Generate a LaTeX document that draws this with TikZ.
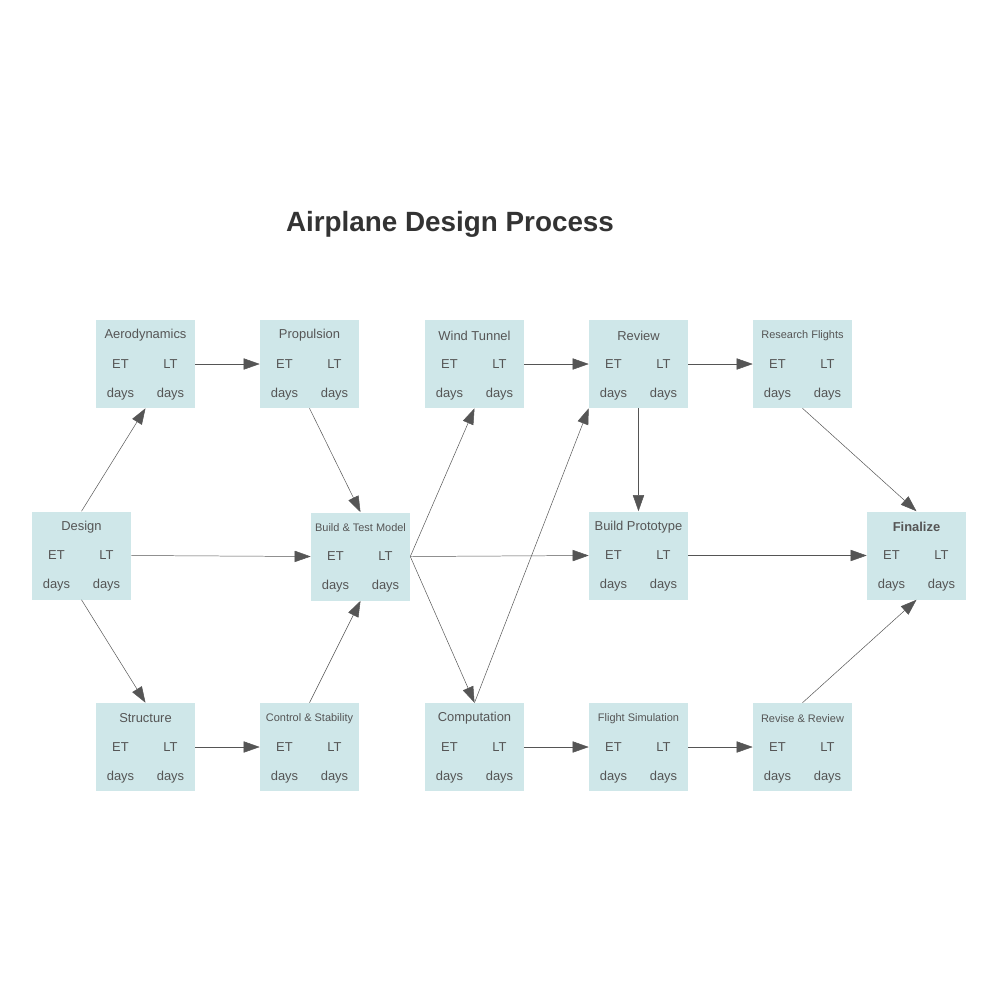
\documentclass[tikz,border=0pt]{standalone}
\usepackage{fontspec}
\setmainfont{Liberation Sans}
\usepackage[svgnames]{xcolor}
\usetikzlibrary{arrows.meta,positioning}

\definecolor{boxfill}{RGB}{207,231,233}
\definecolor{ink}{RGB}{85,85,85}
\definecolor{headline}{RGB}{51,51,51}

% one activity box: name, centre, title
\newcommand{\taskbox}[4][]{%
    \node[task] (#2) at (#3) {} ;
    \path (#2.center) ++(0,-28.5) node[tasktitle,#1] (#2-t) {#4} ;
    \path (#2.center) ++(-25,0) node[tasktext] (#2-et) {ET} ;
    \path (#2.center) ++(25,0) node[tasktext] (#2-lt) {LT} ;
    \path (#2.center) ++(-25,30) node[tasktext] (#2-ed) {days} ;
    \path (#2.center) ++(25,30) node[tasktext] (#2-ld) {days} ;
}

\begin{document}
\begin{tikzpicture}[
        x=0.25mm, y=-0.25mm,
        task/.style={fill=boxfill, draw=none, minimum width=24.75mm, minimum height=22mm, inner sep=0pt},
        tasktitle/.style={text=ink, inner sep=0pt, font=\fontsize{9.2}{11}\selectfont},
        small/.style={font=\fontsize{7.8}{9}\selectfont},
        tasktext/.style={text=ink, inner sep=0pt, font=\fontsize{9.2}{11}\selectfont},
        link/.style={draw=ink, line width=0.35pt, -{Triangle[length=4mm, width=2.8mm]}}
    ]

    \fill[white] (0,0) rectangle (1000,1000) ;

    \node[text=headline, font=\bfseries\fontsize{19.8}{24}\selectfont] (title) at (450,224) {Airplane Design Process} ;

    % top row
    \taskbox{aero}{145.5,364}{Aerodynamics}
    \taskbox{prop}{309.5,364}{Propulsion}
    \taskbox{wind}{474.5,364}{Wind Tunnel}
    \taskbox{review}{638.5,364}{Review}
    \taskbox[small]{flights}{802.5,364}{Research Flights}

    % middle row
    \taskbox{design}{81.5,555.5}{Design}
    \taskbox[small]{model}{360.5,556.5}{Build \& Test Model}
    \taskbox{proto}{638.5,555.5}{Build Prototype}
    \taskbox[font=\bfseries\fontsize{9.2}{11}\selectfont]{final}{916.5,555.5}{Finalize}

    % bottom row
    \taskbox{struct}{145.5,747}{Structure}
    \taskbox[small]{control}{309.5,747}{Control \& Stability}
    \taskbox{comp}{474.5,747}{Computation}
    \taskbox[small]{sim}{638.5,747}{Flight Simulation}
    \taskbox[small]{revise}{802.5,747}{Revise \& Review}

    % connectors
    \draw[link] (design.north) -- (aero.south) ;
    \draw[link] (design.south) -- (struct.north) ;
    \draw[link] (design.east |- design-lt) -- (model.west |- model-et) ;
    \draw[link] (aero.east |- aero-lt) -- (prop.west |- prop-et) ;
    \draw[link] (struct.east |- struct-lt) -- (control.west |- control-et) ;
    \draw[link] (prop.south) -- (model.north) ;
    \draw[link] (control.north) -- (model.south) ;

    \draw[link] (model.east |- model-lt) -- (wind.south) ;
    \draw[link] (model.east |- model-lt) -- (proto.west |- proto-et) ;
    \draw[link] (model.east |- model-lt) -- (comp.north) ;
    \draw[link] (comp.north) -- (review.south west) ;

    \draw[link] (wind.east |- wind-lt) -- (review.west |- review-et) ;
    \draw[link] (review.east |- review-lt) -- (flights.west |- flights-et) ;
    \draw[link] (review.south) -- (proto.north) ;
    \draw[link] (comp.east |- comp-lt) -- (sim.west |- sim-et) ;
    \draw[link] (sim.east |- sim-lt) -- (revise.west |- revise-et) ;

    \draw[link] (flights.south) -- (final.north) ;
    \draw[link] (proto.east |- proto-lt) -- (final.west |- final-et) ;
    \draw[link] (revise.north) -- (final.south) ;

\end{tikzpicture}
\end{document}
